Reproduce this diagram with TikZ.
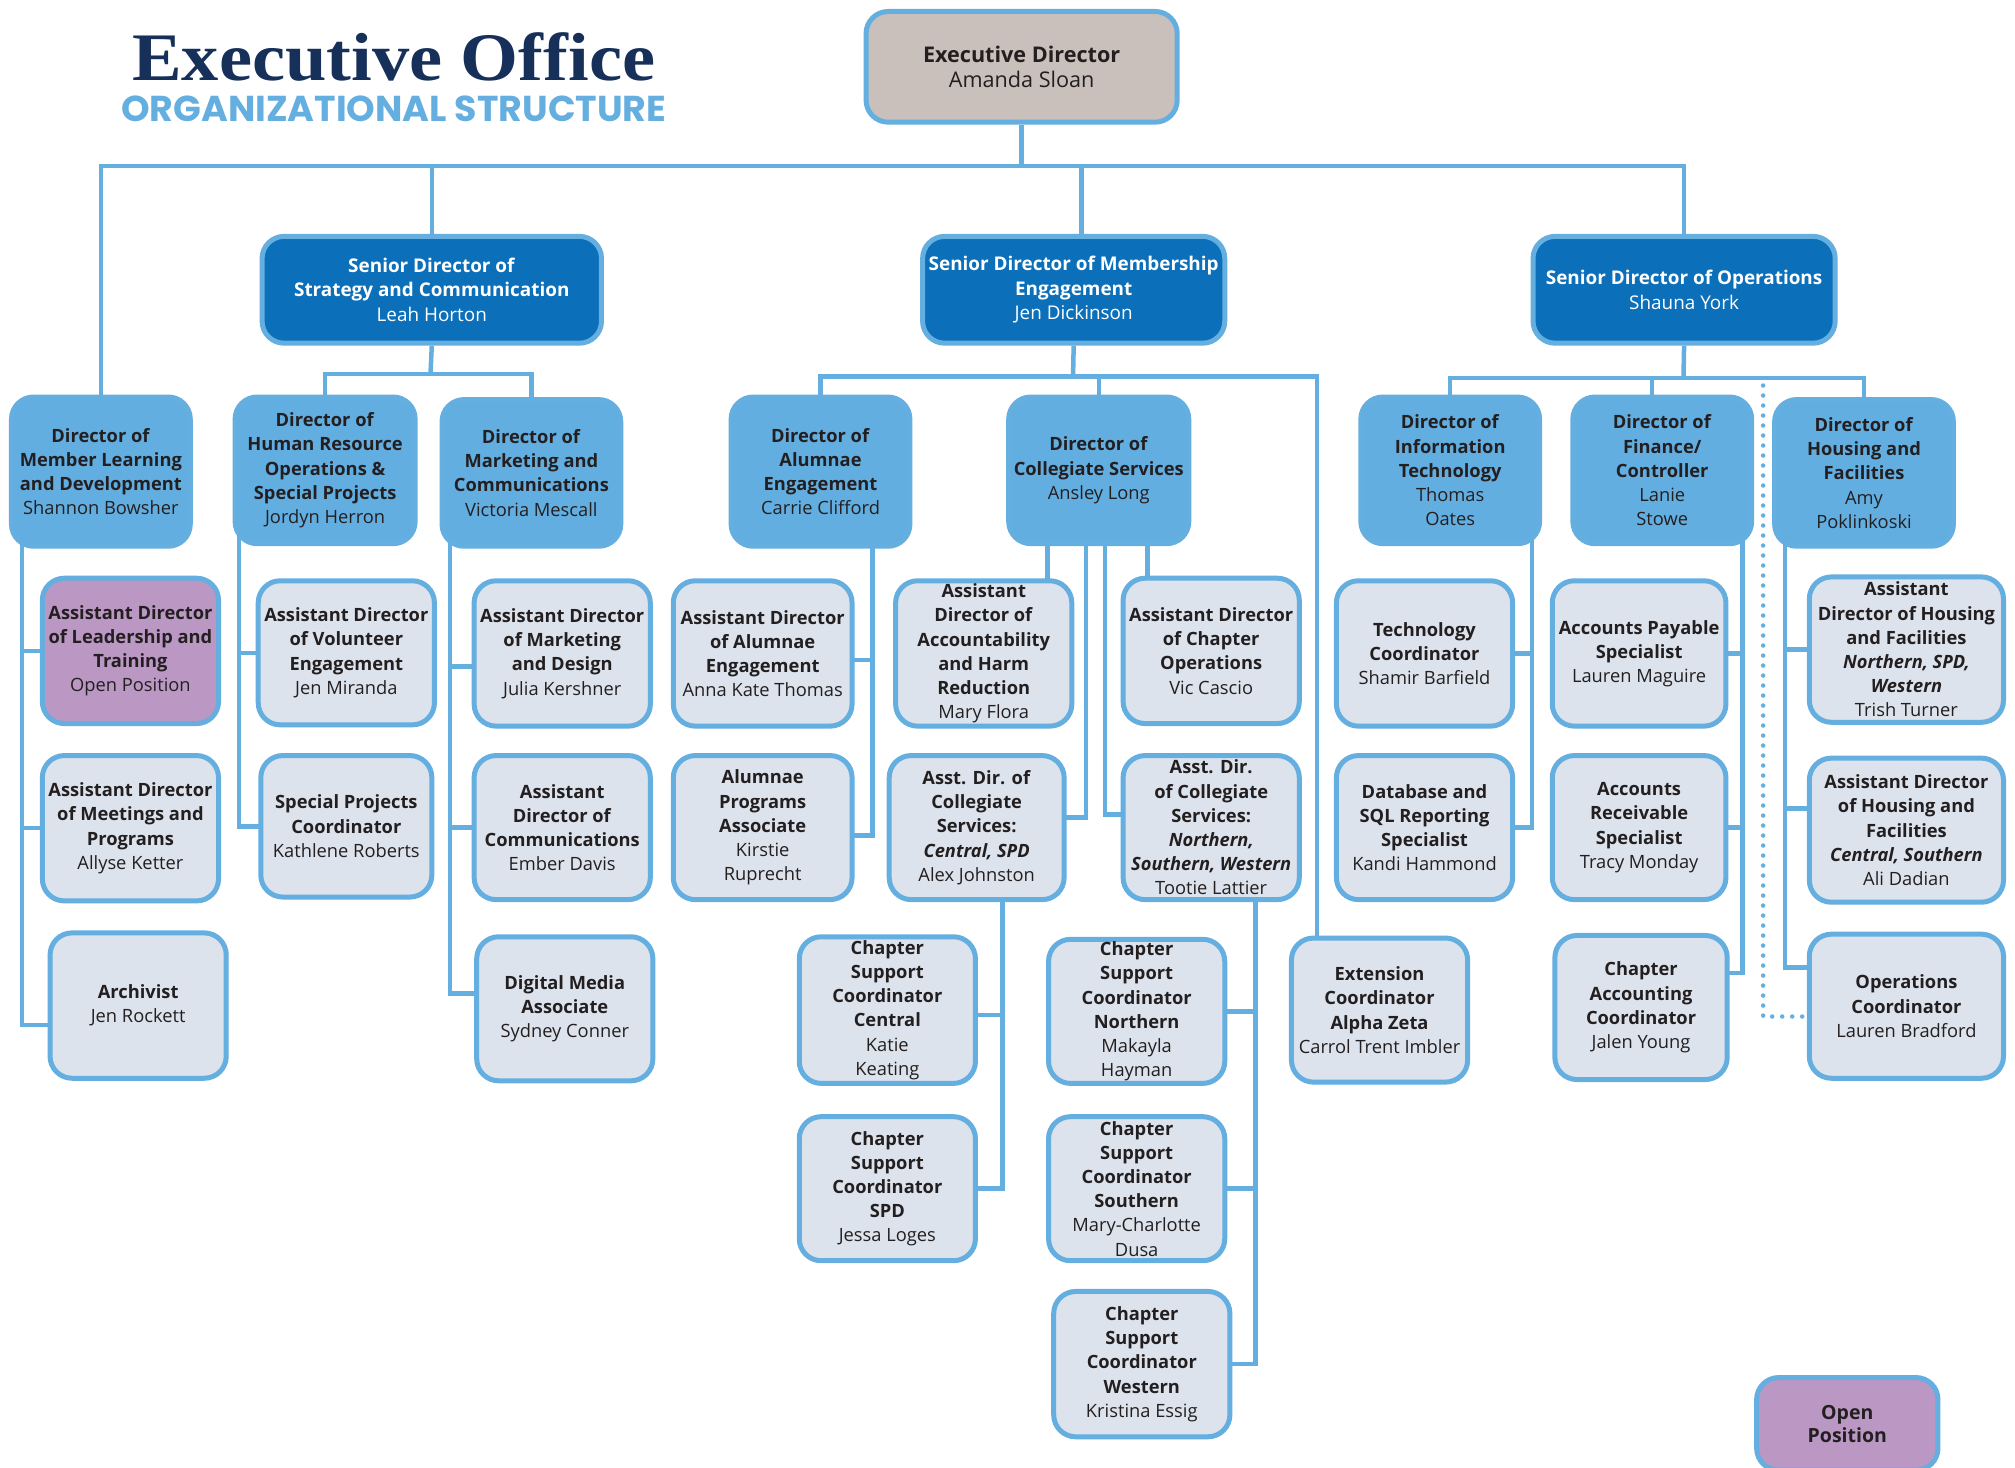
\documentclass[tikz,border=0pt]{standalone}
\usepackage{fontspec}
\setmainfont{Open Sans}
\newfontfamily\titleserif{Liberation Serif}
\newfontfamily\subsans{Poppins}
\usepackage{graphicx}
\usetikzlibrary{calc}
\pgfdeclarelayer{bg}
\pgfsetlayers{bg,main}
\definecolor{edgeblue}{HTML}{64AEE0}
\definecolor{dirfill}{HTML}{63AEE0}
\definecolor{asstfill}{HTML}{DCE3EC}
\definecolor{senfill}{HTML}{0B6FB9}
\definecolor{execfill}{HTML}{C9C0BB}
\definecolor{openfill}{HTML}{BB97C4}
\definecolor{ink}{HTML}{231F20}
\definecolor{navy}{HTML}{16305A}
\newcommand\orgbox[7]{\node[#6, minimum width={(#4-#2)*1.285pt-5pt}, minimum height={(#5-#3)*1.285pt-5pt}] (#1) at ({(#2+#4)/2},{(#3+#5)/2}) {#7};}
\newcommand\Bf[1]{\textbf{#1}}
\newcommand\Bfi[1]{\textbf{\textit{#1}}}
\tikzset{
  orgbase/.style={draw=edgeblue, line width=5pt, rounded corners=22pt, align=center, inner sep=0pt, text=ink, font=\fontsize{18.3}{24.2}\selectfont},
  asst/.style={orgbase, fill=asstfill},
  dirbox/.style={orgbase, fill=dirfill},
  senbox/.style={orgbase, fill=senfill, text=white, font=\fontsize{18.9}{24.4}\selectfont},
  execbox/.style={orgbase, fill=execfill, font=\fontsize{21.6}{25}\selectfont},
  openbox/.style={orgbase, fill=openfill},
  legendbox/.style={orgbase, fill=openfill, font=\fontsize{19.5}{23}\selectfont\bfseries},
  conn/.style={draw=edgeblue, line width=4.5pt},
  dots/.style={draw=edgeblue, line width=4.5pt, line cap=round, dash pattern=on 0pt off 10pt}
}
\begin{document}
\begin{tikzpicture}[x=1.285pt, y=-1.285pt]
\useasboundingbox (0,0) rectangle (1568,1142);

% titles
\node[anchor=base west, inner sep=0pt, text=navy] (title) at (102.7,62.3)
  {\resizebox{523pt}{\height}{\titleserif\bfseries\fontsize{68}{68}\selectfont Executive Office}};
\node[anchor=base west, inner sep=0pt, text=edgeblue] (subtitle) at (94.2,94.2)
  {\resizebox{545pt}{\height}{\subsans\bfseries\fontsize{36}{36}\selectfont ORGANIZATIONAL STRUCTURE}};

% top levels
\orgbox{exec}{672}{7}{918}{97}{execbox}{\Bf{Executive Director}\\Amanda Sloan}
\orgbox{sds}{202}{182}{470}{269}{senbox}{\Bf{Senior Director of}\\\Bf{Strategy and Communication}\\Leah Horton}
\orgbox{sdm}{716}{182}{955}{269}{senbox}{\Bf{Senior Director of Membership}\\\Bf{Engagement}\\Jen Dickinson}
\orgbox{sdo}{1191}{182}{1430}{269}{senbox}{\Bf{Senior Director of Operations}\\Shauna York}

% directors
\orgbox{mld}{7}{307}{150}{427}{dirbox}{\Bf{Director of}\\\Bf{Member Learning}\\\Bf{and Development}\\Shannon Bowsher}
\orgbox{hr}{181}{307}{325}{425}{dirbox}{\Bf{Director of}\\\Bf{Human Resource}\\\Bf{Operations \&}\\\Bf{Special Projects}\\Jordyn Herron}
\orgbox{mkt}{342}{309}{485}{427}{dirbox}{\Bf{Director of}\\\Bf{Marketing and}\\\Bf{Communications}\\Victoria Mescall}
\orgbox{alum}{567}{307}{710}{427}{dirbox}{\Bf{Director of}\\\Bf{Alumnae}\\\Bf{Engagement}\\Carrie Clifford}
\orgbox{coll}{783}{307}{927}{425}{dirbox}{\Bf{Director of}\\\Bf{Collegiate Services}\\Ansley Long}
\orgbox{it}{1057}{307}{1200}{425}{dirbox}{\Bf{Director of}\\\Bf{Information}\\\Bf{Technology}\\Thomas\\Oates}
\orgbox{fin}{1222}{307}{1365}{425}{dirbox}{\Bf{Director of}\\\Bf{Finance/}\\\Bf{Controller}\\Lanie\\Stowe}
\orgbox{hous}{1379}{309}{1522}{427}{dirbox}{\Bf{Director of}\\\Bf{Housing and}\\\Bf{Facilities}\\Amy\\Poklinkoski}

% member learning
\orgbox{lead}{31}{448}{172}{565}{openbox}{\Bf{Assistant Director}\\\Bf{of Leadership and}\\\Bf{Training}\\Open Position}
\orgbox{meet}{31}{586}{172}{703}{asst}{\Bf{Assistant Director}\\\Bf{of Meetings and}\\\Bf{Programs}\\Allyse Ketter}
\orgbox{arch}{37}{724}{178}{841}{asst}{\Bf{Archivist}\\Jen Rockett}
% HR
\orgbox{vol}{199}{450}{340}{566}{asst}{\Bf{Assistant Director}\\\Bf{of Volunteer}\\\Bf{Engagement}\\Jen Miranda}
\orgbox{spc}{201}{586}{338}{700}{asst}{\Bf{Special Projects}\\\Bf{Coordinator}\\Kathlene Roberts}
% marketing
\orgbox{mdz}{367}{450}{508}{567}{asst}{\Bf{Assistant Director}\\\Bf{of Marketing}\\\Bf{and Design}\\Julia Kershner}
\orgbox{com}{367}{586}{508}{702}{asst}{\Bf{Assistant}\\\Bf{Director of}\\\Bf{Communications}\\Ember Davis}
\orgbox{dig}{369}{727}{510}{843}{asst}{\Bf{Digital Media}\\\Bf{Associate}\\Sydney Conner}
% alumnae
\orgbox{aae}{522}{450}{665}{567}{asst}{\Bf{Assistant Director}\\\Bf{of Alumnae}\\\Bf{Engagement}\\Anna Kate Thomas}
\orgbox{apa}{522}{586}{665}{702}{asst}{\Bf{Alumnae}\\\Bf{Programs}\\\Bf{Associate}\\Kirstie\\Ruprecht}
% collegiate
\orgbox{acc}{695}{450}{836}{567}{asst}{\Bf{Assistant}\\\Bf{Director of}\\\Bf{Accountability}\\\Bf{and Harm}\\\Bf{Reduction}\\Mary Flora}
\orgbox{aco}{872}{448}{1013}{565}{asst}{\Bf{Assistant Director}\\\Bf{of Chapter}\\\Bf{Operations}\\Vic Cascio}
\orgbox{adc}{690}{586}{830}{702}{asst}{\Bf{Asst. Dir. of}\\\Bf{Collegiate}\\\Bf{Services:}\\\Bfi{Central, SPD}\\Alex Johnston}
\orgbox{adn}{872}{586}{1013}{702}{asst}{\Bf{Asst. Dir.}\\\Bf{of Collegiate}\\\Bf{Services:}\\\Bfi{Northern,}\\\Bfi{Southern, Western}\\Tootie Lattier}
\orgbox{csc}{620}{727}{761}{845}{asst}{\Bf{Chapter}\\\Bf{Support}\\\Bf{Coordinator}\\\Bf{Central}\\Katie\\Keating}
\orgbox{csp}{620}{867}{761}{983}{asst}{\Bf{Chapter}\\\Bf{Support}\\\Bf{Coordinator}\\\Bf{SPD}\\Jessa Loges}
\orgbox{csn}{814}{729}{955}{845}{asst}{\Bf{Chapter}\\\Bf{Support}\\\Bf{Coordinator}\\\Bf{Northern}\\Makayla\\Hayman}
\orgbox{css}{814}{867}{955}{983}{asst}{\Bf{Chapter}\\\Bf{Support}\\\Bf{Coordinator}\\\Bf{Southern}\\Mary-Charlotte\\Dusa}
\orgbox{csw}{818}{1003}{959}{1120}{asst}{\Bf{Chapter}\\\Bf{Support}\\\Bf{Coordinator}\\\Bf{Western}\\Kristina Essig}
\orgbox{ext}{1003}{728}{1144}{844}{asst}{\Bf{Extension}\\\Bf{Coordinator}\\\Bf{Alpha Zeta}\\Carrol Trent Imbler}
% IT
\orgbox{tc}{1038}{450}{1179}{567}{asst}{\Bf{Technology}\\\Bf{Coordinator}\\Shamir Barfield}
\orgbox{db}{1038}{586}{1179}{702}{asst}{\Bf{Database and}\\\Bf{SQL Reporting}\\\Bf{Specialist}\\Kandi Hammond}
% finance
\orgbox{ap}{1206}{450}{1345}{567}{asst}{\Bf{Accounts Payable}\\\Bf{Specialist}\\Lauren Maguire}
\orgbox{ar}{1206}{586}{1345}{702}{asst}{\Bf{Accounts}\\\Bf{Receivable}\\\Bf{Specialist}\\Tracy Monday}
\orgbox{cac}{1208}{726}{1346}{842}{asst}{\Bf{Chapter}\\\Bf{Accounting}\\\Bf{Coordinator}\\Jalen Young}
% housing
\orgbox{hn}{1406}{447}{1561}{564}{asst}{\Bf{Assistant}\\\Bf{Director of Housing}\\\Bf{and Facilities}\\\Bfi{Northern, SPD,}\\\Bfi{Western}\\Trish Turner}
\orgbox{hc}{1406}{588}{1561}{704}{asst}{\Bf{Assistant Director}\\\Bf{of Housing and}\\\Bf{Facilities}\\\Bfi{Central, Southern}\\Ali Dadian}
\orgbox{opsc}{1406}{725}{1561}{841}{asst}{\Bf{Operations}\\\Bf{Coordinator}\\Lauren Bradford}
% legend
\orgbox{legend}{1365}{1070}{1510}{1146}{legendbox}{Open\\Position}

\begin{pgfonlayer}{bg}
\coordinate (topbus) at (795,129);
\coordinate (sj) at (335,291);
\coordinate (mj) at (835,293);
\coordinate (oj) at (1310,294);
\draw[conn] (exec.south) -- (topbus);
\draw[conn] (mld.north) |- (topbus) -| (sdo.north);
\draw[conn] (sds.north) |- (topbus);
\draw[conn] ($(sdm.north)+(6,10)$) |- (topbus);
% strategy
\draw[conn] (sds.south) -- (sj);
\draw[conn] (hr.north) |- (sj) -| (mkt.north);
% membership
\draw[conn] (sdm.south) -- (mj);
\draw[conn] (alum.north) |- (mj) -| ($(ext.center)+(-48.5,0)$);
\draw[conn] (coll.north) |- (mj);
% operations
\draw[conn] (sdo.south) -- (oj);
\draw[conn] (it.north) |- (oj) -| (hous.north);
\draw[conn] ($(fin.north)+(-8,10)$) |- (oj);
\draw[dots] ($(oj)+(62,6)$) |- ($(opsc.center)+(0,8)$);
% member learning
\draw[conn] ($(mld.center)+(-61.5,0)$) |- (lead.center);
\draw[conn] ($(mld.center)+(-61.5,0)$) |- (meet.center);
\draw[conn] ($(mld.center)+(-61.5,0)$) |- ($(arch.center)+(0,15)$);
% HR
\draw[conn] ($(hr.center)+(-67,0)$) |- (vol.center);
\draw[conn] ($(hr.center)+(-67,0)$) |- (spc.center);
% marketing
\draw[conn] ($(mkt.center)+(-63.5,0)$) |- ($(mdz.center)+(0,10)$);
\draw[conn] ($(mkt.center)+(-63.5,0)$) |- (com.center);
\draw[conn] ($(mkt.center)+(-63.5,0)$) |- ($(dig.center)+(0,-12)$);
% alumnae
\draw[conn] ($(alum.center)+(40.5,0)$) |- ($(aae.center)+(0,5)$);
\draw[conn] ($(alum.center)+(40.5,0)$) |- ($(apa.center)+(0,6)$);
% collegiate
\draw[conn] ($(coll.center)+(-40,0)$) |- (acc.center);
\draw[conn] ($(coll.center)+(-10,0)$) |- ($(adc.center)+(0,-8)$);
\draw[conn] ($(coll.center)+(5,0)$) |- ($(adn.center)+(0,-10)$);
\draw[conn] ($(coll.center)+(38,0)$) |- (aco.center);
\draw[conn] ($(adc.center)+(20,0)$) |- ($(csc.center)+(0,4)$);
\draw[conn] ($(adc.center)+(20,0)$) |- (csp.center);
\draw[conn] ($(adn.center)+(34.5,0)$) |- (csn.center);
\draw[conn] ($(adn.center)+(34.5,0)$) |- (css.center);
\draw[conn] ($(adn.center)+(34.5,0)$) |- (csw.center);
% IT
\draw[conn] ($(it.center)+(63.5,0)$) |- (tc.center);
\draw[conn] ($(it.center)+(63.5,0)$) |- (db.center);
% finance
\draw[conn] ($(fin.center)+(62.5,0)$) |- (ap.center);
\draw[conn] ($(fin.center)+(62.5,0)$) |- (ar.center);
\draw[conn] ($(fin.center)+(62.5,0)$) |- ($(cac.center)+(0,-27)$);
% housing
\draw[conn] ($(hous.center)+(-61.5,0)$) |- (hn.center);
\draw[conn] ($(hous.center)+(-61.5,0)$) |- ($(hc.center)+(0,-17)$);
\draw[conn] ($(hous.center)+(-61.5,0)$) |- ($(opsc.center)+(0,-30)$);
\end{pgfonlayer}
\end{tikzpicture}
\end{document}
